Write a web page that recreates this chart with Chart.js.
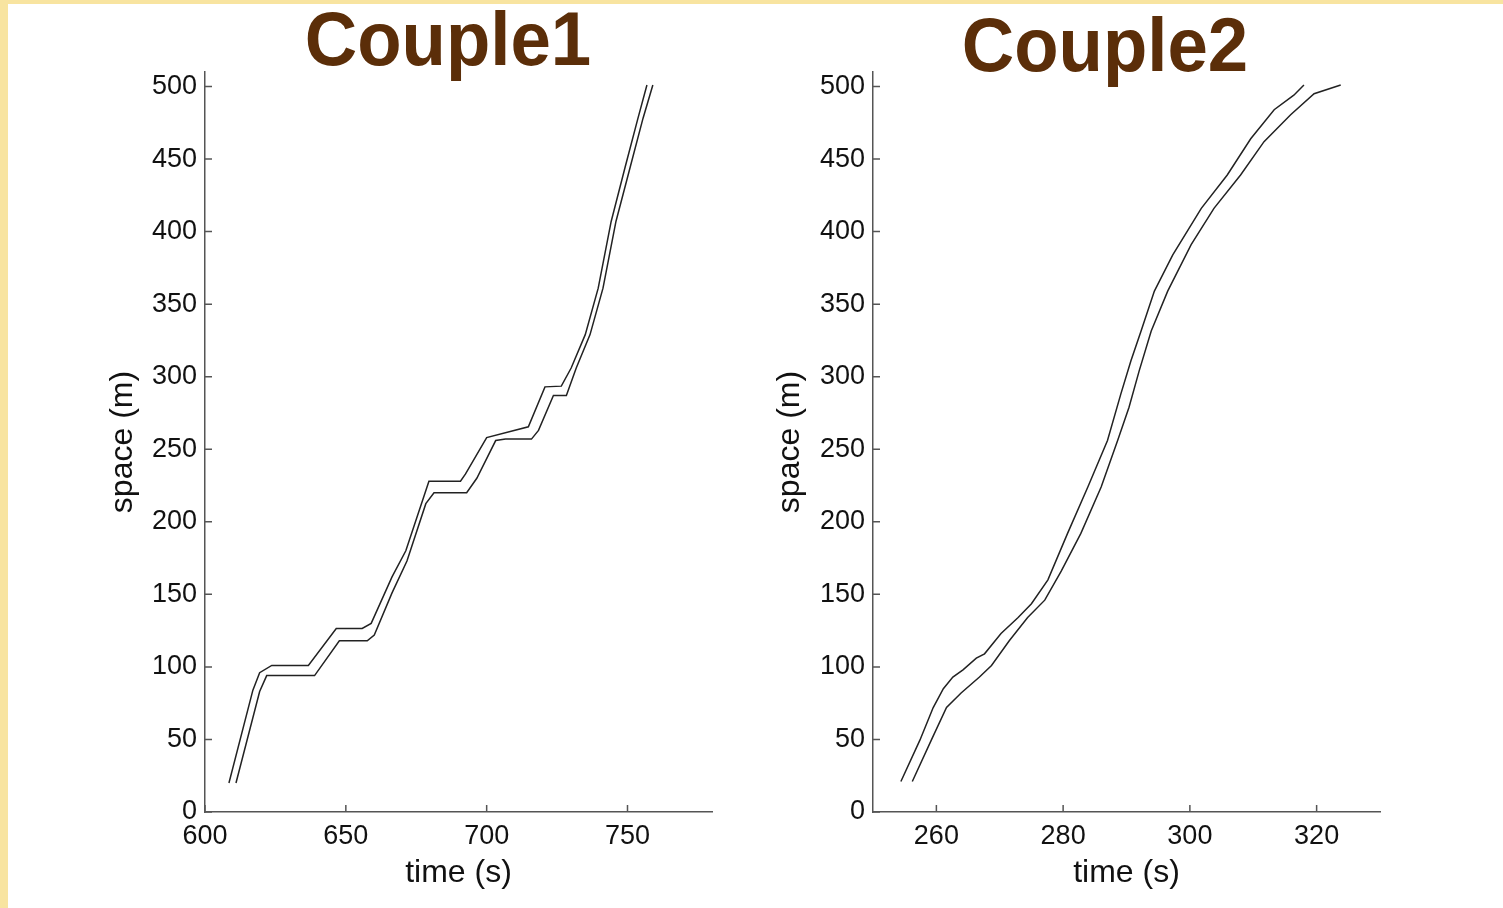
<!DOCTYPE html>
<html>
<head>
<meta charset="utf-8">
<script src="https://cdn.jsdelivr.net/npm/chart.js@4.4.0/dist/chart.umd.min.js"></script>
<style>
  html, body { margin: 0; padding: 0; background: #fff; }
  body { width: 1503px; height: 908px; position: relative; overflow: hidden; font-family: Arial, 'Liberation Sans', sans-serif; }
  .strip-left { position: absolute; left: 0; top: 0; width: 8px; height: 908px; background: #f8e4a0; }
  .strip-top { position: absolute; left: 0; top: 0; width: 1503px; height: 4px; background: #f8e4a0; }
  .title { position: absolute; font-weight: bold; font-size: 76px; line-height: 1; color: #5b2e09; white-space: nowrap; transform: translateX(-50%) scaleX(0.955); }
  canvas { position: absolute; top: 0; }
</style>
</head>
<body>
<div class="strip-left"></div>
<div class="strip-top"></div>
<canvas id="chart-couple1" width="750" height="908" style="left:0"></canvas>
<canvas id="chart-couple2" width="753" height="908" style="left:750px"></canvas>
<div class="title" style="left:448px; top:1px">Couple1</div>
<div class="title" style="left:1105px; top:7px">Couple2</div>

<script>
// Couple1 - leader (upper) and follower (lower) trajectories
const c1LeadT = [608.5, 617.0, 619.4, 623.7, 636.7, 646.6, 655.8, 659.0, 666.4, 671.3, 679.5, 690.7, 692.5, 700.0, 714.8, 720.7, 726.5, 730.0, 735.0, 739.6, 744.2, 749.1, 753.7, 756.9];
const c1LeadS = [20, 84, 96, 101, 101, 126.5, 126.5, 130, 162, 180, 228, 228, 233, 258, 265.5, 293, 293.5, 306, 329, 361, 407, 444, 478, 501];
const c1FollowT = [611.0, 619.4, 621.9, 638.9, 647.7, 657.6, 660.1, 666.4, 671.7, 678.4, 681.3, 692.9, 696.5, 703.2, 706.7, 715.9, 718.4, 723.7, 728.3, 731.8, 736.7, 741.3, 745.9, 750.9, 755.5, 759.0];
const c1FollowS = [20, 83, 94, 94, 118, 118, 122, 151, 173, 212.5, 220, 220, 230, 256, 257, 257, 263, 287, 287, 306, 329, 361, 407, 444, 478, 501];

// Couple2
const c2LeadT = [254.4, 257.4, 259.5, 261.1, 262.6, 264.2, 266.3, 267.6, 270.2, 272.9, 275.0, 277.6, 280.7, 283.9, 287.0, 289.1, 290.7, 292.3, 294.4, 297.3, 301.8, 305.9, 309.6, 313.3, 316.4, 318.0];
const c2LeadS = [21, 49.5, 72, 85, 93, 98, 106, 109, 123, 134, 143.5, 160, 192, 224, 256, 288, 311, 331.5, 359, 384, 416, 439, 464, 484, 494, 501];
const c2FollowT = [256.2, 259.2, 261.6, 263.9, 266.8, 268.7, 271.5, 274.4, 277.1, 279.7, 282.8, 286.0, 288.6, 290.4, 292.0, 293.9, 296.5, 300.2, 303.8, 308.0, 311.7, 315.9, 319.6, 323.8];
const c2FollowS = [21, 49.5, 72, 82, 93, 101, 118, 134, 146, 166, 192, 224, 256, 279, 304, 331.5, 359, 391, 416, 439, 462, 480.5, 495, 501];

// tick labels
const yTicks = [0, 50, 100, 150, 200, 250, 300, 350, 400, 450, 500];
const c1XTicks = [600, 650, 700, 750];
const c2XTicks = [260, 280, 300, 320];

const tickFont = { family: "Arial, 'Liberation Sans', sans-serif", size: 27 };
const titleFont = { family: "Arial, 'Liberation Sans', sans-serif", size: 32 };
const axisColor = '#555';

// MATLAB-like ticks drawn inward from the axis lines
const inwardTicks = {
  id: 'inwardTicks',
  afterDraw(chart) {
    const { ctx, chartArea, scales } = chart;
    ctx.save();
    ctx.strokeStyle = axisColor;
    ctx.lineWidth = 1.5;
    ctx.beginPath();
    scales.x.ticks.forEach((t) => {
      const px = scales.x.getPixelForValue(t.value);
      ctx.moveTo(px, chartArea.bottom);
      ctx.lineTo(px, chartArea.bottom - 7);
    });
    scales.y.ticks.forEach((t) => {
      const py = scales.y.getPixelForValue(t.value);
      ctx.moveTo(chartArea.left, py);
      ctx.lineTo(chartArea.left + 7, py);
    });
    ctx.stroke();
    ctx.restore();
  },
};

function toPoints(ts, ss) {
  return ts.map((t, i) => ({ x: t, y: ss[i] }));
}

function lineDataset(ts, ss) {
  return {
    data: toPoints(ts, ss),
    borderColor: '#222',
    borderWidth: 1.5,
    pointRadius: 0,
    tension: 0,
    fill: false,
  };
}

function makeChart(id, cfg) {
  return new Chart(document.getElementById(id), {
    type: 'line',
    data: {
      datasets: [lineDataset(cfg.leadT, cfg.leadS), lineDataset(cfg.followT, cfg.followS)],
    },
    options: {
      responsive: false,
      animation: false,
      layout: { padding: { top: 72, right: cfg.padRight, left: 0, bottom: 0 } },
      plugins: { legend: { display: false }, tooltip: { enabled: false } },
      scales: {
        x: {
          type: 'linear',
          min: cfg.xMin,
          max: cfg.xMax,
          afterBuildTicks: (s) => { s.ticks = cfg.xTicks.map((v) => ({ value: v })); },
          afterFit: (s) => { s.height = 96; },
          grid: { display: false, drawTicks: false },
          border: { display: true, color: axisColor, width: 1.5 },
          ticks: { font: tickFont, color: '#111', padding: 8, maxRotation: 0 },
          title: { display: true, text: 'time (s)', font: titleFont, color: '#111', padding: { top: 0, bottom: 16 } },
        },
        y: {
          type: 'linear',
          min: 0,
          max: 510,
          afterBuildTicks: (s) => { s.ticks = yTicks.map((v) => ({ value: v })); },
          afterFit: (s) => { s.width = cfg.yWidth; },
          grid: { display: false, drawTicks: false },
          border: { display: true, color: axisColor, width: 1.5 },
          ticks: { font: tickFont, color: '#111', padding: 8 },
          title: { display: true, text: 'space (m)', font: titleFont, color: '#111', padding: { top: cfg.yTitlePad, bottom: 0 } },
        },
      },
    },
    plugins: [inwardTicks],
  });
}

makeChart('chart-couple1', {
  leadT: c1LeadT, leadS: c1LeadS, followT: c1FollowT, followS: c1FollowS,
  xMin: 600, xMax: 780, xTicks: c1XTicks,
  yWidth: 205, yTitlePad: 104, padRight: 38,
});

makeChart('chart-couple2', {
  leadT: c2LeadT, leadS: c2LeadS, followT: c2FollowT, followS: c2FollowS,
  xMin: 250, xMax: 330, xTicks: c2XTicks,
  yWidth: 123, yTitlePad: 21, padRight: 123,
});
</script>
</body>
</html>
